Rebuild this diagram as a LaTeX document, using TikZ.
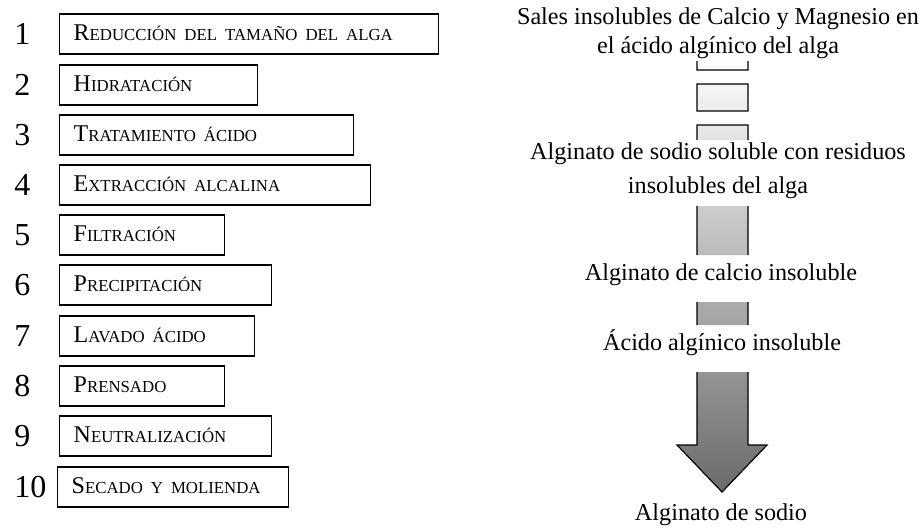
\documentclass[tikz,border=0pt]{standalone}
\usepackage{fontspec}
\setmainfont{Liberation Serif}
\usepackage{tikz}

\newcommand{\versal}[2]{#1{\fontsize{8.4}{10}\selectfont\MakeUppercase{#2}}}

\tikzset{
  stepbox/.style={draw, line width=0.7pt, anchor=west, minimum height=20pt,
                  inner xsep=7pt, inner ysep=0pt, text height=8pt, text depth=2pt,
                  align=left, text width=#1, font=\fontsize{12}{14}\selectfont},
  stepnum/.style={anchor=west, inner sep=0pt, font=\fontsize{16}{18}\selectfont},
  stagelabel/.style={anchor=base, align=center, inner sep=0pt,
                     font=\fontsize{12.1}{14.5}\selectfont},
  arrowshade/.style={draw, line width=0.6pt, top color=white,
                     middle color=black!17, bottom color=black!58}
}

\begin{document}
\begin{tikzpicture}[x=0.5pt,y=-0.5pt]
\useasboundingbox (0,0) rectangle (919,527);

\node[stepnum] (N1) at (14,34) {1};
\node[stepnum] (N2) at (14,85) {2};
\node[stepnum] (N3) at (14,135) {3};
\node[stepnum] (N4) at (14,185) {4};
\node[stepnum] (N5) at (14,235) {5};
\node[stepnum] (N6) at (14,285) {6};
\node[stepnum] (N7) at (14,336) {7};
\node[stepnum] (N8) at (14,386) {8};
\node[stepnum] (N9) at (14,436) {9};
\node[stepnum] (N10) at (14,487) {10};

\node[stepbox=175.5pt] (P1) at (59,34) {\versal{R}{educción del tamaño del alga}};
\node[stepbox=85pt] (P2) at (59,85) {\versal{H}{idratación}};
\node[stepbox=133pt] (P3) at (59,135) {\versal{T}{ratamiento ácido}};
\node[stepbox=141.5pt] (P4) at (59,185) {\versal{E}{xtracción alcalina}};
\node[stepbox=68.5pt] (P5) at (59,235) {\versal{F}{iltración}};
\node[stepbox=92pt] (P6) at (59,285) {\versal{P}{recipitación}};
\node[stepbox=83.5pt] (P7) at (59,336) {\versal{L}{avado ácido}};
\node[stepbox=68.5pt] (P8) at (59,386) {\versal{P}{rensado}};
\node[stepbox=92pt] (P9) at (59,436) {\versal{N}{eutralización}};
\node[stepbox=101.5pt] (P10) at (57,487) {\versal{S}{ecado y molienda}};

% striped arrow, only the parts between the texts
\begin{scope}
\clip (670,61) rectangle (775,73) (670,82) rectangle (775,114)
      (670,123) rectangle (775,140) (670,206) rectangle (775,255)
      (670,302) rectangle (775,325) (670,372) rectangle (775,500);
\path[arrowshade] (697,55) rectangle (748,70) (697,84) rectangle (748,111)
      (697,125) -- (748,125) -- (748,445) -- (767,445) -- (722,492)
      -- (677,445) -- (697,445) -- cycle;
\end{scope}

% base of a two-line label = base of its last line
\node[stagelabel] (L1) at (718,53) {Sales insolubles de Calcio y Magnesio en\\el ácido algínico del alga};
\node[stagelabel] (L2) at (718,193) {Alginato de sodio soluble con residuos\\[2.5pt]insolubles del alga};
\node[stagelabel] (L3) at (721,280) {Alginato de calcio insoluble};
\node[stagelabel] (L4) at (722,350) {Ácido algínico insoluble};
\node[stagelabel] (L5) at (721,520) {Alginato de sodio};

\end{tikzpicture}
\end{document}
